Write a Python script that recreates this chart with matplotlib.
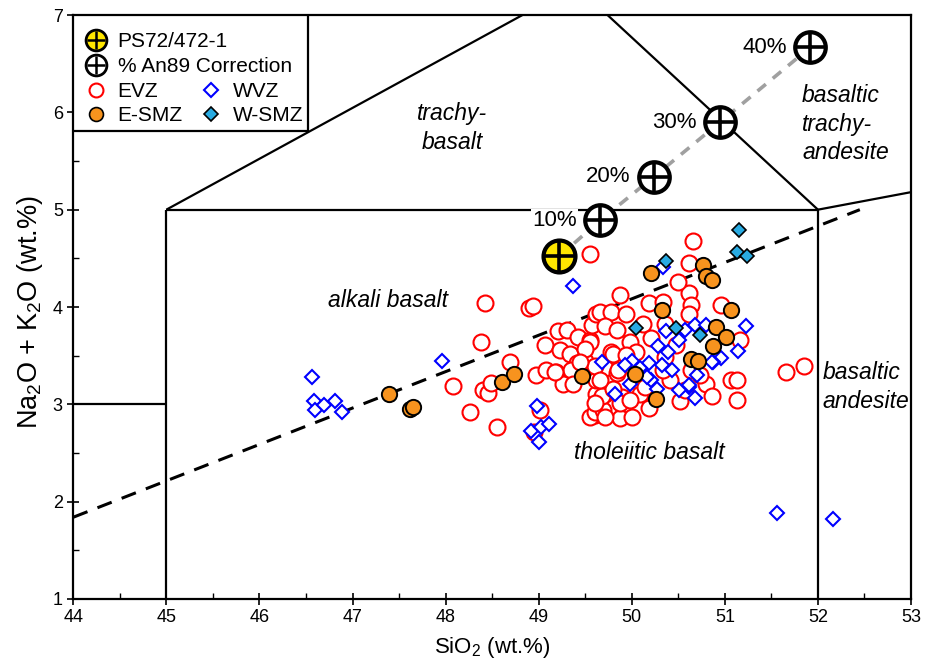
import matplotlib
matplotlib.use("Agg")
import matplotlib.pyplot as plt
from matplotlib.lines import Line2D
from matplotlib.patches import Rectangle
import numpy as np

plt.rcParams["font.family"] = ["Liberation Sans", "DejaVu Sans"]
plt.rcParams["mathtext.fontset"] = "custom"
plt.rcParams["mathtext.rm"] = "Liberation Sans"
plt.rcParams["mathtext.it"] = "Liberation Sans:italic"

# EVZ (open red circles)
evz_sio2 = [48.42, 48.90, 48.94, 48.38, 48.08, 48.40, 48.46, 48.49, 48.26, 48.69, 48.55, 48.97, 48.95, 49.01,
            49.55, 49.07, 49.21, 49.30, 49.23, 49.34, 49.42, 49.55, 49.57, 49.62, 49.41, 49.28, 49.19, 49.62,
            49.60, 49.50, 49.35, 49.08, 49.26, 49.55,
            49.87, 50.18, 50.34, 50.62, 50.64, 50.61, 50.96, 49.66, 49.78, 49.94, 49.71, 49.84, 50.12, 50.21,
            49.55, 49.78, 49.98, 50.05, 49.71, 49.84, 49.62, 49.71, 49.89, 49.60, 49.69, 49.87, 50.00, 50.19,
            50.09, 50.41, 50.52, 50.57, 50.80, 50.86, 51.07, 51.13, 51.13, 51.16, 50.36, 50.34, 50.64, 50.73,
            50.48, 50.36, 50.66, 50.62, 50.50, 51.66, 51.85,
            49.50, 49.80, 49.94, 49.60, 49.44, 49.37, 49.68, 49.60, 49.71, 49.87, 49.98, 49.80, 50.14, 49.66,
            49.85, 49.17]
evz_alk = [4.04, 3.99, 4.01, 3.64, 3.19, 3.15, 3.12, 3.22, 2.92, 3.43, 2.77, 3.30, 2.72, 2.94,
           4.54, 3.61, 3.75, 3.76, 3.56, 3.52, 3.69, 3.66, 3.81, 3.93, 3.42, 3.27, 3.33, 3.11,
           2.89, 3.45, 3.35, 3.35, 3.21, 2.87,
           4.12, 4.04, 4.05, 4.14, 4.02, 3.93, 4.02, 3.95, 3.95, 3.93, 3.80, 3.76, 3.83, 3.68,
           3.64, 3.54, 3.64, 3.54, 3.37, 3.32, 3.25, 3.11, 3.08, 2.92, 2.94, 2.86, 2.87, 2.96,
           3.11, 3.25, 3.03, 3.15, 3.21, 3.09, 3.25, 3.25, 3.04, 3.66, 3.49, 3.35, 3.35, 3.30,
           3.61, 3.83, 4.68, 4.45, 4.26, 3.33, 3.39,
           3.57, 3.52, 3.51, 3.39, 3.44, 3.21, 3.09, 3.01, 2.87, 3.01, 3.04, 3.16, 3.18, 3.25,
           3.35, 3.33]

# WVZ (open blue diamonds)
wvz_sio2 = [46.56, 46.59, 46.60, 46.69, 46.81, 46.89, 47.96, 49.37, 48.98, 48.92, 49.03, 49.11, 49.00,
            51.23, 51.14, 50.96, 50.87, 50.70, 50.62, 50.68, 50.51, 50.68, 50.80, 50.57, 50.37, 50.51,
            50.28, 50.39, 50.32, 50.43, 50.18, 50.21, 50.09, 50.00, 49.93, 50.16, 49.82, 49.68, 50.27,
            49.98, 50.34, 51.56, 52.16, 50.86, 50.61]
wvz_alk = [3.28, 3.03, 2.94, 2.99, 3.03, 2.92, 3.45, 4.22, 2.98, 2.73, 2.77, 2.80, 2.61,
           3.80, 3.55, 3.48, 3.43, 3.30, 3.18, 3.06, 3.15, 3.81, 3.82, 3.76, 3.75, 3.66,
           3.60, 3.54, 3.40, 3.35, 3.42, 3.25, 3.37, 3.45, 3.40, 3.28, 3.11, 3.44, 3.16,
           3.21, 4.41, 1.88, 1.82, 3.44, 3.20]

# E-SMZ (orange filled circles)
esmz_sio2 = [47.39, 47.62, 47.65, 48.61, 48.74, 49.47, 50.21, 50.77, 50.80, 50.86, 50.32, 51.07,
             50.90, 51.01, 50.87, 50.64, 50.71, 50.04, 50.26]
esmz_alk = [3.11, 2.95, 2.97, 3.23, 3.31, 3.29, 4.35, 4.43, 4.32, 4.28, 3.97, 3.97,
            3.79, 3.69, 3.60, 3.47, 3.45, 3.31, 3.05]

# W-SMZ (teal filled diamonds)
wsmz_sio2 = [51.15, 51.13, 51.24, 50.37, 50.05, 50.47, 50.73]
wsmz_alk = [4.79, 4.57, 4.52, 4.47, 3.78, 3.78, 3.71]

# PS72/472-1 and An89 correction steps
ps72_sio2 = [49.22]
ps72_alk = [4.52]
corr_sio2 = [49.66, 50.24, 50.95, 51.92]
corr_alk = [4.89, 5.34, 5.90, 6.67]
corr_labels = ["10%", "20%", "30%", "40%"]

# TAS field boundaries
field_lines = [
    ([45, 45], [1, 5]),
    ([45, 52], [5, 5]),
    ([52, 52], [1, 5]),
    ([44, 45], [3, 3]),
    ([45, 49.4], [5, 7.3]),
    ([49.4, 52], [7.3, 5]),
    ([52, 57], [5, 5.9]),
]
divider_sio2 = [44, 52.45]
divider_alk = [1.84, 5.0]

field_names = ["trachy-\nbasalt", "alkali basalt", "tholeiitic basalt",
               "basaltic\ntrachy-\nandesite", "basaltic\nandesite"]
field_x = [48.07, 47.38, 50.19, 51.83, 52.05]
field_y = [5.84, 4.07, 2.50, 5.88, 3.18]
field_ha = ["center", "center", "center", "left", "left"]

fig = plt.figure(figsize=(9.25, 6.64), dpi=100)
ax = fig.add_axes([0.0792, 0.0979, 0.9057, 0.8795])

for xs, ys in field_lines:
    ax.plot(xs, ys, color="black", lw=1.6, zorder=1, solid_capstyle="butt")
ax.plot(divider_sio2, divider_alk, color="black", lw=2.2, dashes=(5, 3.5), zorder=1)

ax.plot(ps72_sio2 + corr_sio2, ps72_alk + corr_alk, color="#a0a0a0", lw=2.6,
        dashes=(3, 2.5), zorder=2)

ax.plot(evz_sio2, evz_alk, "o", ms=11.5, mfc="white", mec="#ff0000", mew=1.5,
        ls="none", zorder=3)
ax.plot(wvz_sio2, wvz_alk, "D", ms=7.2, mfc="white", mec="#0000ff", mew=1.5,
        ls="none", zorder=4)
ax.plot(esmz_sio2, esmz_alk, "o", ms=11, mfc="#f7931e", mec="black", mew=1.4,
        ls="none", zorder=5)
ax.plot(wsmz_sio2, wsmz_alk, "D", ms=7.6, mfc="#29abe2", mec="black", mew=1.2,
        ls="none", zorder=6)

ax.plot(corr_sio2, corr_alk, "o", ms=22, mfc="white", mec="black", mew=3, ls="none", zorder=7)
ax.plot(corr_sio2, corr_alk, "+", ms=20, mec="black", mew=2.6, ls="none", zorder=8)
ax.plot(ps72_sio2, ps72_alk, "o", ms=23, mfc="#ffe600", mec="black", mew=3, ls="none", zorder=7)
ax.plot(ps72_sio2, ps72_alk, "+", ms=21, mec="black", mew=2.6, ls="none", zorder=8)

for xv, yv, lab in zip(corr_sio2, corr_alk, corr_labels):
    ax.annotate(lab, (xv, yv), xytext=(-17, 0), textcoords="offset points",
                ha="right", va="center", fontsize=16, zorder=9,
                bbox=dict(boxstyle="square,pad=0.05", fc="white", ec="none"))

for name, xv, yv, ha in zip(field_names, field_x, field_y, field_ha):
    ax.text(xv, yv, name, ha=ha, va="center", fontsize=16.5, style="italic",
            linespacing=1.3, zorder=2)

ax.set_xlim(44, 53)
ax.set_ylim(1, 7)
ax.set_xticks(np.arange(44, 54, 1))
ax.set_xticks(np.arange(44.5, 53, 1), minor=True)
ax.set_yticks(np.arange(1, 8, 1))
ax.set_yticks(np.arange(1.5, 7, 1), minor=True)
ax.tick_params(which="major", direction="inout", length=8, width=1.2, labelsize=13)
ax.tick_params(which="minor", direction="in", length=4, width=1.0)
for lab in ax.get_xticklabels() + ax.get_yticklabels():
    lab.set_family(["Liberation Sans Narrow", "Liberation Sans"])
for s in ax.spines.values():
    s.set_linewidth(1.6)

ax.set_xlabel(r"SiO$_\mathregular{2}$ (wt.%)", fontsize=16, labelpad=6)
ax.set_ylabel(r"Na$_\mathregular{2}$O + K$_\mathregular{2}$O (wt.%)", fontsize=19.5)
ax.yaxis.set_label_coords(-0.034, 0.491)

# legend
box = Rectangle((0, 0.802), 0.28, 0.198, transform=ax.transAxes, fc="white",
                ec="black", lw=1.6, zorder=10)
ax.add_patch(box)

h_ps = Line2D([], [], marker="o", ms=15, mfc="#ffe600", mec="black", mew=2, ls="none")
h_ps_c = Line2D([], [], marker="+", ms=13, mec="black", mew=1.8, ls="none")
h_cr = Line2D([], [], marker="o", ms=15, mfc="white", mec="black", mew=2, ls="none")
h_cr_c = Line2D([], [], marker="+", ms=13, mec="black", mew=1.8, ls="none")
leg1 = ax.legend([(h_ps, h_ps_c), (h_cr, h_cr_c)], ["PS72/472-1", "% An89 Correction"],
                 loc="upper left", bbox_to_anchor=(-0.003, 0.996), frameon=False,
                 fontsize=15, handlelength=1.0, handletextpad=0.55, labelspacing=0.3,
                 borderaxespad=0.3)
leg1.set_zorder(11)
ax.add_artist(leg1)

h_evz = Line2D([], [], marker="o", ms=10, mfc="white", mec="#ff0000", mew=1.5, ls="none")
h_esmz = Line2D([], [], marker="o", ms=10, mfc="#f7931e", mec="black", mew=1.2, ls="none")
h_wvz = Line2D([], [], marker="D", ms=7, mfc="white", mec="#0000ff", mew=1.5, ls="none")
h_wsmz = Line2D([], [], marker="D", ms=7, mfc="#29abe2", mec="black", mew=1.2, ls="none")
leg2 = ax.legend([h_evz, h_esmz, h_wvz, h_wsmz], ["EVZ", "E-SMZ", "WVZ", "W-SMZ"],
                 ncol=2, loc="upper left", bbox_to_anchor=(-0.003, 0.91), frameon=False,
                 fontsize=15, handlelength=1.0, handletextpad=0.55, labelspacing=0.25,
                 columnspacing=0.85, borderaxespad=0.3)
leg2.set_zorder(11)

fig.savefig("out.png", dpi=100)
